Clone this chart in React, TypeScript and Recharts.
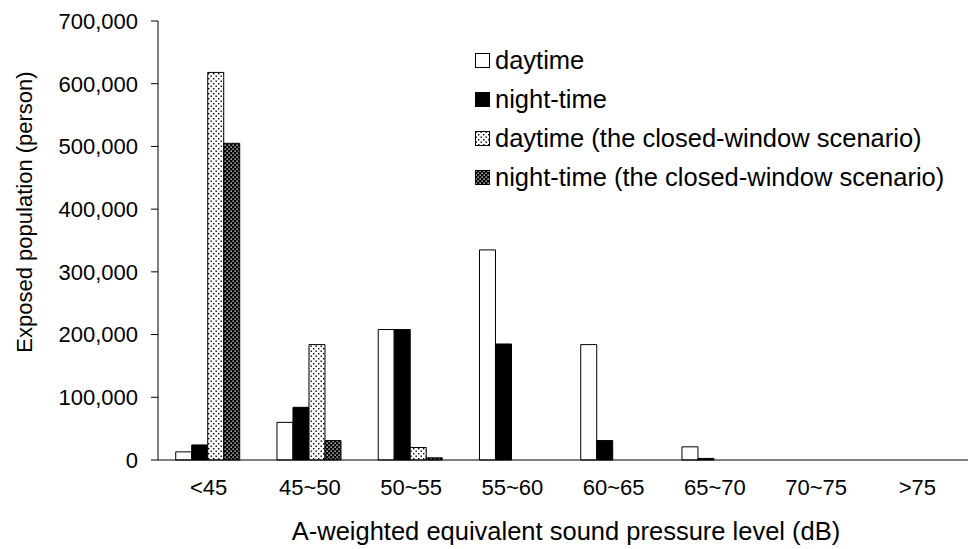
import { Bar, BarChart, Legend, XAxis, YAxis } from 'recharts'

const categories = ['<45', '45~50', '50~55', '55~60', '60~65', '65~70', '70~75', '>75']
const daytime = [13000, 60000, 208000, 335000, 184000, 21000, 0, 0]
const nightTime = [24000, 84000, 208000, 185000, 31000, 2500, 0, 0]
const daytimeClosed = [618000, 184000, 20000, 0, 0, 0, 0, 0]
const nightTimeClosed = [505000, 31000, 3500, 0, 0, 0, 0, 0]
const yTicks = [0, 100000, 200000, 300000, 400000, 500000, 600000, 700000]

const seriesNames = [
  'daytime',
  'night-time',
  'daytime (the closed-window scenario)',
  'night-time (the closed-window scenario)'
]
const seriesFills = ['#ffffff', '#000000', 'url(#dotsLight)', 'url(#dotsDark)']

const data = categories.map((c, i) => ({
  name: c,
  day: daytime[i],
  night: nightTime[i],
  dayClosed: daytimeClosed[i],
  nightClosed: nightTimeClosed[i]
}))

const FONT = '"Liberation Sans", Arial, sans-serif'

function Patterns() {
  return (
    <defs>
      <pattern id="dotsLight" width="5" height="5" patternUnits="userSpaceOnUse">
        <rect width="5" height="5" fill="#ffffff" />
        <rect x="0.5" y="0.5" width="1.4" height="1.4" fill="#000000" />
        <rect x="3" y="3" width="1.4" height="1.4" fill="#000000" />
      </pattern>
      <pattern id="dotsDark" width="4" height="4" patternUnits="userSpaceOnUse">
        <rect width="4" height="4" fill="#000000" />
        <rect x="0.5" y="0.5" width="1.3" height="1.3" fill="#ffffff" />
        <rect x="2.5" y="2.5" width="1.3" height="1.3" fill="#ffffff" />
      </pattern>
    </defs>
  )
}

// legend drawn by hand: square marker + label, one row per series
function LegendBox() {
  return (
    <div style={{ fontFamily: FONT, fontSize: 25.5, color: '#000', lineHeight: 1 }}>
      {seriesNames.map((n, i) => (
        <div key={n} style={{ display: 'flex', alignItems: 'center', height: 39 }}>
          <svg width={16} height={16} style={{ marginRight: 4 }}>
            <rect x={0.5} y={0.5} width={14} height={14} fill={seriesFills[i]} stroke="#000" />
          </svg>
          <span style={{ whiteSpace: 'nowrap' }}>{n}</span>
        </div>
      ))}
    </div>
  )
}

export default function App() {
  return (
    <div style={{ position: 'absolute', left: 0, top: 0, background: '#fff' }}>
      <BarChart
        width={970}
        height={549}
        data={data}
        margin={{ top: 21, right: 2, bottom: 0, left: 0 }}
        barCategoryGap="17.5%"
        barGap={0}
      >
        <Patterns />
        <XAxis
          dataKey="name"
          height={89}
          tickLine={false}
          tickSize={0}
          tickMargin={19}
          stroke="#000"
          tick={{ fill: '#000', fontSize: 22, fontFamily: FONT }}
          label={{
            content: () => (
              <text x={566} y={540} textAnchor="middle" fontSize={25.5} fontFamily={FONT} fill="#000">
                A-weighted equivalent sound pressure level (dB)
              </text>
            )
          }}
        />
        <YAxis
          width={158}
          domain={[0, 700000]}
          ticks={yTicks}
          tickSize={7}
          tickMargin={13}
          stroke="#000"
          tickFormatter={(v: number) => v.toLocaleString('en-US')}
          tick={{ fill: '#000', fontSize: 22, fontFamily: FONT }}
          label={{
            content: () => (
              <text
                x={32}
                y={212}
                transform="rotate(-90 32 212)"
                textAnchor="middle"
                fontSize={22}
                fontFamily={FONT}
                fill="#000"
              >
                Exposed population (person)
              </text>
            )
          }}
        />
        <Legend
          layout="vertical"
          align="center"
          verticalAlign="middle"
          content={() => <LegendBox />}
          wrapperStyle={{ left: 475, top: 41, width: 'auto' }}
        />
        <Bar dataKey="day" name={seriesNames[0]} fill={seriesFills[0]} stroke="#000" strokeWidth={1} isAnimationActive={false} />
        <Bar dataKey="night" name={seriesNames[1]} fill={seriesFills[1]} stroke="#000" strokeWidth={1} isAnimationActive={false} />
        <Bar dataKey="dayClosed" name={seriesNames[2]} fill={seriesFills[2]} stroke="#000" strokeWidth={1} isAnimationActive={false} />
        <Bar dataKey="nightClosed" name={seriesNames[3]} fill={seriesFills[3]} stroke="#000" strokeWidth={1} isAnimationActive={false} />
      </BarChart>
    </div>
  )
}
